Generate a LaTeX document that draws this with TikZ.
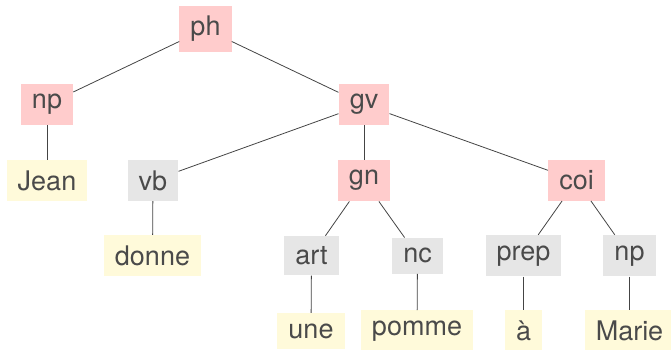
\documentclass[tikz,border=0pt]{standalone}
\usepackage{fontspec}
\setmainfont{TeX Gyre Heros}
\definecolor{phrasefill}{HTML}{FFCCCC}
\definecolor{tagfill}{HTML}{E6E6E6}
\definecolor{wordfill}{HTML}{FFFADA}
\definecolor{inktext}{HTML}{4A4A4A}
\definecolor{inkline}{HTML}{444444}
\begin{document}
\begin{tikzpicture}[x=1pt,y=-1pt,
  treenode/.style={inner xsep=11pt,inner ysep=10.5pt,text=inktext,
    font=\fontsize{27}{30}\selectfont},
  phrasebox/.style={treenode,fill=phrasefill},
  tagbox/.style={treenode,fill=tagfill},
  wordbox/.style={treenode,fill=wordfill},
  branch/.style={draw=inkline,line width=0.8pt}]
\useasboundingbox (0,0) rectangle (671,350);

% phrase structure
\node[phrasebox] (ph) at (205.5,29) {ph};
\node[phrasebox] (np1) at (47,104.5) {np};
\node[phrasebox] (gv) at (364,104.5) {gv};
\node[wordbox] (jean) at (47,180.5) {Jean};
\node[tagbox] (vb) at (153,180.5) {vb};
\node[phrasebox] (gn) at (364,180.5) {gn};
\node[phrasebox] (coi) at (576.5,180.5) {coi};
\node[wordbox] (donne) at (152.5,255.7) {donne};
\node[tagbox] (art) at (311.5,255.7) {art};
\node[tagbox] (nc) at (417.5,255.7) {nc};
\node[tagbox] (prep) at (523.5,255.7) {prep};
\node[tagbox] (np2) at (629.5,255.7) {np};
\node[wordbox] (une) at (311,331) {une};
\node[wordbox] (pomme) at (417,331) {pomme};
\node[wordbox] (a) at (523.5,331) {à};
\node[wordbox] (marie) at (629.5,331) {Marie};

% branches
\draw[branch] (ph) -- (np1);
\draw[branch] (ph) -- (gv);
\draw[branch] (np1) -- (jean);
\draw[branch] (gv) -- (vb);
\draw[branch] (gv) -- (gn);
\draw[branch] (gv) -- (coi);
\draw[branch] (vb) -- (donne);
\draw[branch] (gn) -- (art);
\draw[branch] (gn) -- (nc);
\draw[branch] (coi) -- (prep);
\draw[branch] (coi) -- (np2);
\draw[branch] (art) -- (une);
\draw[branch] (nc) -- (pomme);
\draw[branch] (prep) -- (a);
\draw[branch] (np2) -- (marie);
\end{tikzpicture}
\end{document}
